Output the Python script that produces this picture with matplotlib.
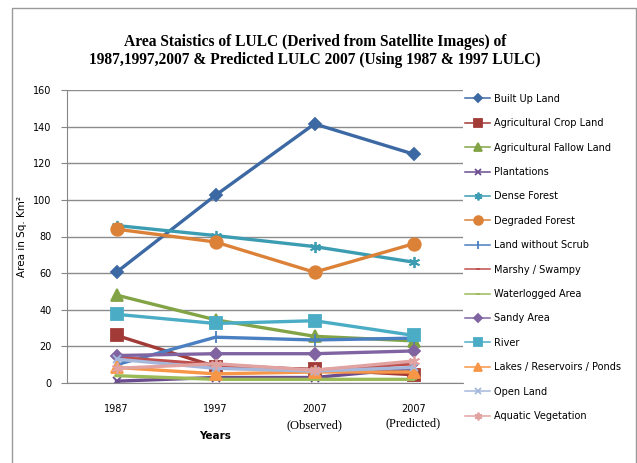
import matplotlib.pyplot as plt
from matplotlib.patches import Rectangle

years = ["1987", "1997", "2007", "2007"]
year_notes = ["", "", "(Observed)", "(Predicted)"]

built_up = [60.5, 102.5, 141.5, 125]
crop_land = [26, 9, 7.5, 4.5]
fallow_land = [48, 34.5, 25.5, 23]
plantations = [1, 3, 3, 8]
dense_forest = [86, 80.5, 74.5, 66]
degraded_forest = [84, 77, 60.5, 76]
land_without_scrub = [10, 25, 23.5, 24.5]
marshy = [14, 10, 7, 10.5]
waterlogged = [4, 2, 2, 2]
sandy_area = [15, 16, 16, 17.5]
river = [37.5, 32.5, 34, 26]
lakes = [8.5, 5, 6, 6]
open_land = [13, 8, 6.5, 8.5]
aquatic_veg = [8, 10.5, 7, 12]

# name, values, colour, marker, marker size
series = [
    ("Built Up Land", built_up, "#3c69a3", "D", 6),
    ("Agricultural Crop Land", crop_land, "#a23b37", "s", 8),
    ("Agricultural Fallow Land", fallow_land, "#82a446", "^", 8),
    ("Plantations", plantations, "#6a4c8f", "x", 6),
    ("Dense Forest", dense_forest, "#3b9cb2", (6, 2, 0), 8),
    ("Degraded Forest", degraded_forest, "#dc8238", "o", 9),
    ("Land without Scrub", land_without_scrub, "#4a7fc1", "|", 8),
    ("Marshy / Swampy", marshy, "#c0504d", "_", 5),
    ("Waterlogged Area", waterlogged, "#9bbb59", "_", 5),
    ("Sandy Area", sandy_area, "#8064a2", "D", 6),
    ("River", river, "#4bacc6", "s", 9),
    ("Lakes / Reservoirs / Ponds", lakes, "#f79646", "^", 9),
    ("Open Land", open_land, "#a5b8dc", "x", 6),
    ("Aquatic Vegetation", aquatic_veg, "#e0a3a1", (6, 2, 0), 8),
]

fig = plt.figure(figsize=(6.37, 4.63), dpi=100)
fig.patches.append(Rectangle((12 / 637, -0.01), 624 / 637, 1 - 8 / 463 + 0.01,
                             transform=fig.transFigure, fill=False,
                             edgecolor="#9a9a9a", linewidth=1))
ax = fig.add_axes([67 / 637, 1 - 383 / 463, 396 / 637, 293 / 463])

x = range(len(years))
for name, vals, col, mk, ms in series:
    ax.plot(x, vals, color=col, marker=mk, markersize=ms, linewidth=2.4,
            markeredgecolor=col, markerfacecolor=col, markeredgewidth=1.3,
            label=name)

ax.set_xlim(-0.5, 3.5)
ax.set_ylim(0, 160)
ax.set_yticks(range(0, 161, 20))
ax.set_xticks(list(x))
ax.set_xticklabels(years, family="DejaVu Sans", fontsize=7)
ax.tick_params(axis="x", length=0, pad=15)
ax.tick_params(axis="y", length=4, color="#868686", labelsize=7, pad=7)
ax.yaxis.grid(True, color="#8c8c8c", linewidth=1)
ax.set_axisbelow(True)
for s in ["top", "right"]:
    ax.spines[s].set_visible(False)
ax.spines["left"].set_color("#868686")
ax.spines["bottom"].set_color("#868686")

for i, note in enumerate(year_notes):
    if note:
        ax.text(i, -0.145 if i == 2 else -0.138, note, transform=ax.get_xaxis_transform(),
                ha="center", va="center", fontsize=9, family="Liberation Serif")

ax.set_xlabel("Years", fontsize=7.5, fontweight="bold", family="DejaVu Sans")
ax.xaxis.set_label_coords(0.375, -0.165)
ax.set_ylabel("Area in Sq. Km²", fontsize=7.5, family="DejaVu Sans")
ax.yaxis.set_label_coords(-0.1, 0.5)

fig.text(315 / 637, 1 - 51 / 463,
         "Area Staistics of LULC (Derived from Satellite Images) of\n"
         "1987,1997,2007 & Predicted LULC 2007 (Using 1987 & 1997 LULC)",
         ha="center", va="center", fontsize=11.2, fontweight="bold",
         family="Liberation Serif", linespacing=1.15)

leg = ax.legend(loc="upper left", bbox_to_anchor=(0.995, 1.0), frameon=False,
                fontsize=7, handlelength=2.6, handletextpad=0.4,
                labelspacing=1.48, borderaxespad=0, markerscale=0.7)
for line in leg.get_lines():
    line.set_linewidth(1.1)

fig.savefig("out.png", dpi=100)
